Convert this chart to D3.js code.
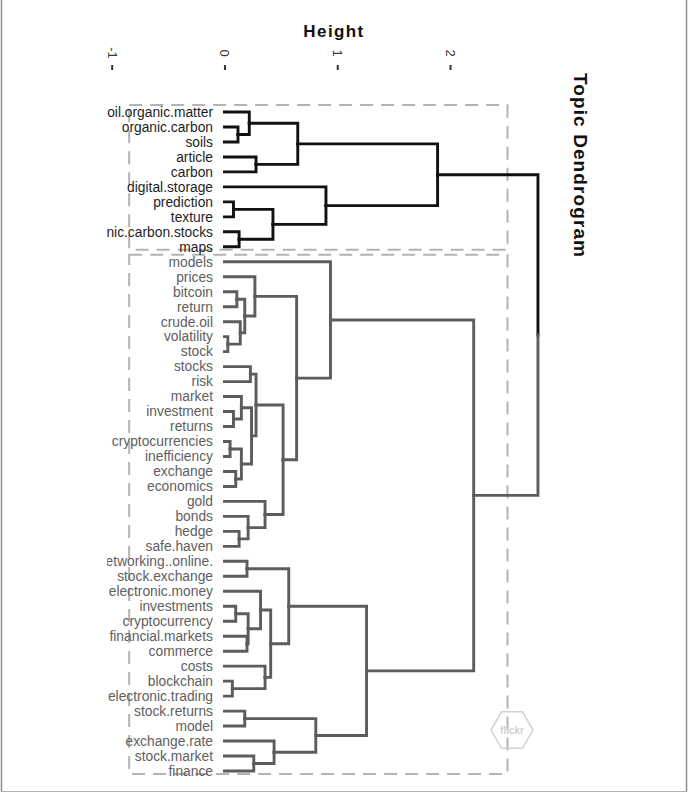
<!DOCTYPE html>
<html>
<head>
<meta charset="utf-8">
<script src="https://cdn.jsdelivr.net/npm/d3@7"></script>
<style>
  html, body { margin: 0; padding: 0; background: #ffffff; }
  svg { display: block; }
</style>
</head>
<body>
<svg id="chart" width="689" height="800"></svg>
<script>
// ---- data (leaf order as drawn, top to bottom) ----
const leaves = [
  "soil.organic.matter", "organic.carbon", "soils", "article", "carbon",
  "digital.storage", "prediction", "texture", "soil.organic.carbon.stocks", "maps",
  "models", "prices", "bitcoin", "return", "crude.oil", "volatility", "stock",
  "stocks", "risk", "market", "investment", "returns", "cryptocurrencies",
  "inefficiency", "exchange", "economics", "gold", "bonds", "hedge", "safe.haven",
  "social.networking..online.", "stock.exchange", "electronic.money", "investments",
  "cryptocurrency", "financial.markets", "commerce", "costs", "blockchain",
  "electronic.trading", "stock.returns", "model", "exchange.rate", "stock.market", "finance"
];
// hclust-style merges: negative = leaf (1-based), positive = earlier merge (1-based)
const mergeLeft  = [-2, -1, -4, 2, -7, -9, 5, -6, 4,
                    -16, -15, -13, 12, -12, -18, -21, -20, -23, -25, 18, 17, 15, -29, -28, -27, 22, 14, -11,
                    -31, -34, -36, 30, -33, -39, -38, 33, 29, -41, -44, -43, 38, 37, 28, 9];
const mergeRight = [-3, 1, -5, 3, -8, -10, 6, 7, 8,
                    -17, 10, -14, 11, 13, -19, -22, 16, -24, -26, 19, 20, 21, -30, 23, 24, 25, 26, 27,
                    -32, -35, -37, 31, 32, -40, 34, 35, 36, -42, -45, 39, 40, 41, 42, 43];
const mergeHeight = [0.12, 0.22, 0.28, 0.65, 0.08, 0.13, 0.43, 0.90, 1.89,
                     0.03, 0.14, 0.11, 0.18, 0.27, 0.23, 0.08, 0.15, 0.05, 0.10, 0.15, 0.24, 0.28, 0.13, 0.21, 0.36, 0.52, 0.64, 0.94,
                     0.20, 0.10, 0.20, 0.21, 0.32, 0.07, 0.36, 0.41, 0.57, 0.18, 0.26, 0.44, 0.81, 1.26, 2.21, 2.78];
const tickValues = [-1, 0, 1, 2];
const clusterColors = ["#111111", "#5c5c5c"];
const labelColors = ["#1e1e1e", "#5e5e5e"];

// ---- scales ----
const svg = d3.select("#chart");
const x = d3.scaleLinear().domain([-1, 2]).range([111.7, 450]);
const y = d3.scalePoint().domain(leaves).range([112, 771]);

// ---- build node positions ----
function leafNode(i) { return { h: 0, y: y(leaves[i]), leaves: [i] }; }
const merges = [];
function getNode(ref) { return ref < 0 ? leafNode(-ref - 1) : merges[ref - 1]; }
mergeLeft.forEach((l, k) => {
  const a = getNode(l), b = getNode(mergeRight[k]);
  merges.push({ h: mergeHeight[k], y: (a.y + b.y) / 2, a, b, leaves: a.leaves.concat(b.leaves) });
});
const root = merges[merges.length - 1];
const leafCluster = new Array(leaves.length);
[root.a, root.b].forEach((c, ci) => c.leaves.forEach(li => leafCluster[li] = ci));

// ---- frame ----
svg.append("line").attr("x1", 1.5).attr("x2", 1.5).attr("y1", 0).attr("y2", 792)
  .attr("stroke", "#8c8c8c").attr("stroke-width", 1.5);
svg.append("line").attr("x1", 686.5).attr("x2", 686.5).attr("y1", 0).attr("y2", 792)
  .attr("stroke", "#8c8c8c").attr("stroke-width", 1.5);
svg.append("line").attr("x1", 1).attr("x2", 687).attr("y1", 791.5).attr("y2", 791.5)
  .attr("stroke", "#b0b0b0").attr("stroke-width", 1);

// ---- dashed cluster rectangles ----
const rectLow = -0.845, rectHigh = 2.51;
[root.a, root.b].forEach(c => {
  const ys = c.leaves.map(li => y(leaves[li]));
  const y0 = d3.min(ys) - 7, y1 = d3.max(ys) + 3;
  svg.append("rect")
    .attr("x", x(rectLow)).attr("y", y0)
    .attr("width", x(rectHigh) - x(rectLow)).attr("height", y1 - y0)
    .attr("fill", "none").attr("stroke", "#b3b3b3").attr("stroke-width", 2)
    .attr("stroke-dasharray", "13,8");
});

// ---- watermark ----
const hx = 512, hy = 730, hr = 21;
svg.append("path")
  .attr("d", d3.line()(d3.range(6).map(i => [hx + hr * Math.cos(i * Math.PI / 3), hy + hr * Math.sin(i * Math.PI / 3)])) + "Z")
  .attr("fill", "none").attr("stroke", "#d2d2d2").attr("stroke-width", 1.5);
svg.append("text").attr("x", hx).attr("y", hy).attr("dy", "0.35em")
  .attr("text-anchor", "middle").attr("font-family", "Liberation Sans, Arial, sans-serif")
  .attr("font-size", 10).attr("font-weight", "bold").attr("fill", "#cfcfcf").text("flickr");

// ---- dendrogram links ----
const links = [];
merges.forEach(m => {
  [m.a, m.b].forEach(c => {
    links.push({ parent: m, child: c, cluster: leafCluster[c.leaves[0]] });
  });
});
svg.append("g").selectAll("path").data(links).join("path")
  .attr("d", d => `M${x(d.child.h)},${d.child.y}H${x(d.parent.h)}V${d.parent.y}`)
  .attr("fill", "none")
  .attr("stroke", d => clusterColors[d.cluster])
  .attr("stroke-width", 2.9)
  .attr("stroke-linejoin", "miter")
  .attr("stroke-linecap", "square");

// ---- leaf labels ----
svg.append("defs").append("clipPath").attr("id", "lblclip")
  .append("rect").attr("x", 107).attr("y", 0).attr("width", 600).attr("height", 800);
svg.append("g").attr("clip-path", "url(#lblclip)")
  .selectAll("text").data(leaves).join("text")
  .attr("x", 213).attr("y", d => y(d)).attr("dy", "0.35em")
  .attr("text-anchor", "end")
  .attr("font-family", "Liberation Sans, Arial, sans-serif")
  .attr("font-size", 13.8)
  .attr("fill", (d, i) => labelColors[leafCluster[i]])
  .text(d => d);

// ---- axis (top, rotated tick labels) ----
const axis = d3.axisTop(x).tickValues(tickValues).tickSize(5).tickFormat(d => String(d));
const ag = svg.append("g").attr("transform", "translate(0,70)").call(axis);
ag.select(".domain").remove();
ag.selectAll(".tick line").attr("stroke", "#333").attr("stroke-width", 2);
ag.selectAll(".tick text")
  .attr("y", 0).attr("dy", "0.35em")
  .attr("transform", "translate(0,-17) rotate(90)")
  .attr("text-anchor", "middle")
  .attr("font-family", "Liberation Sans, Arial, sans-serif")
  .attr("font-size", 13).attr("fill", "#3a3a3a");

// ---- titles ----
svg.append("text").attr("x", 334).attr("y", 37)
  .attr("text-anchor", "middle")
  .attr("font-family", "Liberation Sans, Arial, sans-serif")
  .attr("font-size", 17).attr("font-weight", "bold").attr("letter-spacing", 1.4)
  .attr("fill", "#111").text("Height");
svg.append("text")
  .attr("transform", "translate(573.5,73) rotate(90)")
  .attr("text-anchor", "start")
  .attr("font-family", "Liberation Sans, Arial, sans-serif")
  .attr("font-size", 19).attr("font-weight", "bold").attr("letter-spacing", 1.1)
  .attr("fill", "#111").text("Topic Dendrogram");
</script>
</body>
</html>
